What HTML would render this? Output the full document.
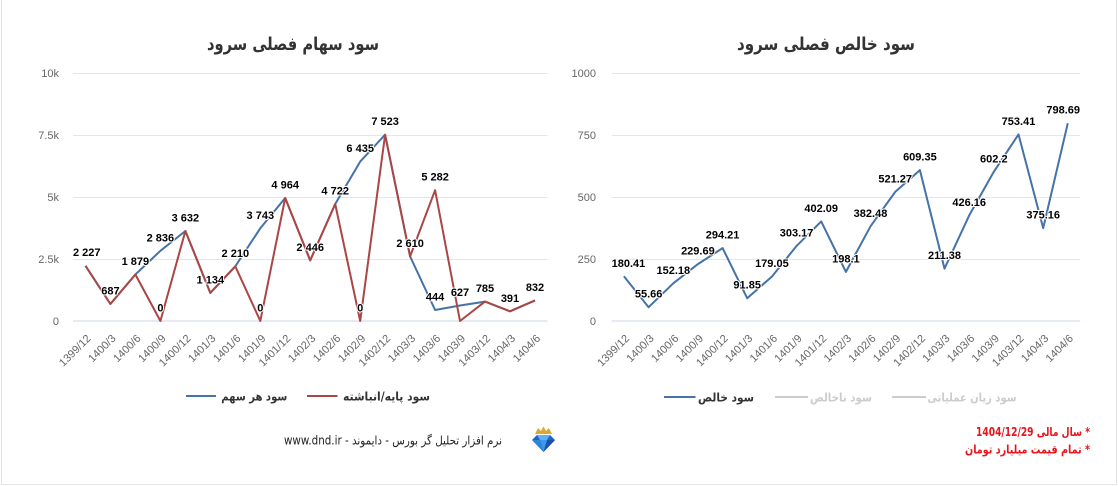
<!DOCTYPE html>
<html><head><meta charset="utf-8">
<style>
html,body{margin:0;padding:0;background:#fff;}
svg{display:block;}
.t{font-family:"Liberation Sans","DejaVu Sans",sans-serif;}
.ax{font-size:11px;fill:#666;}
.dl{font-size:11px;font-weight:bold;fill:#000;stroke:#fff;stroke-width:2px;paint-order:stroke;stroke-linejoin:round;}
.fa{font-family:"DejaVu Sans","Liberation Sans",sans-serif;}
</style></head>
<body>
<svg width="1118" height="486" viewBox="0 0 1118 486" xmlns="http://www.w3.org/2000/svg">
<rect x="0" y="0" width="1118" height="486" fill="#fff"/>
<!-- border -->
<path d="M1.5 0 V484.5 H1116.5 V0" fill="none" stroke="#e4e4e4" stroke-width="1"/>

<!-- ============ LEFT CHART ============ -->
<text class="fa" x="293" y="50" text-anchor="middle" font-size="18" font-weight="bold" fill="#333" textLength="172" lengthAdjust="spacingAndGlyphs">سود سهام فصلی سرود</text>
<g stroke="#e6e6e6" stroke-width="1">
<line x1="73" y1="73.5" x2="547.5" y2="73.5"/>
<line x1="73" y1="135.5" x2="547.5" y2="135.5"/>
<line x1="73" y1="197.5" x2="547.5" y2="197.5"/>
<line x1="73" y1="259.5" x2="547.5" y2="259.5"/>
</g>
<line x1="73" y1="321" x2="547.5" y2="321" stroke="#ccd6eb" stroke-width="1"/>
<g class="t ax" text-anchor="end">
<text x="59" y="77">10k</text>
<text x="59" y="139">7.5k</text>
<text x="59" y="201">5k</text>
<text x="59" y="263">2.5k</text>
<text x="59" y="325">0</text>
</g>
<g class="t ax" text-anchor="end">
<text transform="translate(91.5,339) rotate(-45)">1399/12</text>
<text transform="translate(116.4,339) rotate(-45)">1400/3</text>
<text transform="translate(141.4,339) rotate(-45)">1400/6</text>
<text transform="translate(166.4,339) rotate(-45)">1400/9</text>
<text transform="translate(191.4,339) rotate(-45)">1400/12</text>
<text transform="translate(216.3,339) rotate(-45)">1401/3</text>
<text transform="translate(241.3,339) rotate(-45)">1401/6</text>
<text transform="translate(266.3,339) rotate(-45)">1401/9</text>
<text transform="translate(291.2,339) rotate(-45)">1401/12</text>
<text transform="translate(316.2,339) rotate(-45)">1402/3</text>
<text transform="translate(341.2,339) rotate(-45)">1402/6</text>
<text transform="translate(366.2,339) rotate(-45)">1402/9</text>
<text transform="translate(391.1,339) rotate(-45)">1402/12</text>
<text transform="translate(416.1,339) rotate(-45)">1403/3</text>
<text transform="translate(441.1,339) rotate(-45)">1403/6</text>
<text transform="translate(466,339) rotate(-45)">1403/9</text>
<text transform="translate(491,339) rotate(-45)">1403/12</text>
<text transform="translate(516,339) rotate(-45)">1404/3</text>
<text transform="translate(541,339) rotate(-45)">1404/6</text>
</g>
<!-- blue series -->
<polyline fill="none" stroke="#4572A7" stroke-width="2" stroke-linejoin="round" points="85.5,265.8 110.4,304 135.4,274.5 160.4,250.8 185.4,231 210.3,292.9 235.3,266.3 260.3,228.3 285.2,198 310.2,260.4 335.2,204 360.2,161.6 385.1,134.7 410.1,256.4 435.1,310 460,305.5 485,301.6 510,311.3 535,300.4"/>
<!-- red series -->
<polyline fill="none" stroke="#AA4643" stroke-width="2" stroke-linejoin="round" points="85.5,265.8 110.4,304 135.4,274.5 160.4,321 185.4,231 210.3,292.9 235.3,266.3 260.3,321 285.2,198 310.2,260.4 335.2,204 360.2,321 385.1,134.7 410.1,256.4 435.1,190.2 460,321 485,301.6 510,311.3 535,300.4"/>
<g class="t dl" text-anchor="middle">
<text x="73" y="256" text-anchor="start">2 227</text>
<text x="110.4" y="294.5">687</text>
<text x="135.4" y="265">1 879</text>
<text x="160.4" y="241.3">2 836</text>
<text x="160.4" y="311.5">0</text>
<text x="185.4" y="221.5">3 632</text>
<text x="210.3" y="283.4">1 134</text>
<text x="235.3" y="256.8">2 210</text>
<text x="260.3" y="218.8">3 743</text>
<text x="260.3" y="311.5">0</text>
<text x="285.2" y="188.5">4 964</text>
<text x="310.2" y="250.9">2 446</text>
<text x="335.2" y="194.5">4 722</text>
<text x="360.2" y="152.1">6 435</text>
<text x="360.2" y="311.5">0</text>
<text x="385.1" y="125.2">7 523</text>
<text x="410.1" y="246.9">2 610</text>
<text x="435.1" y="180.7">5 282</text>
<text x="435.1" y="300.5">444</text>
<text x="460" y="296">627</text>
<text x="485" y="292.1">785</text>
<text x="510" y="301.8">391</text>
<text x="535" y="290.9">832</text>
</g>
<!-- left legend -->
<line x1="186" y1="396" x2="216" y2="396" stroke="#4572A7" stroke-width="2"/>
<text class="fa" x="254.3" y="400.5" text-anchor="middle" font-size="12" font-weight="bold" fill="#333" textLength="66" lengthAdjust="spacingAndGlyphs">سود هر سهم</text>
<line x1="307" y1="396" x2="337.5" y2="396" stroke="#AA4643" stroke-width="2"/>
<text class="fa" x="386.5" y="400.5" text-anchor="middle" font-size="12" font-weight="bold" fill="#333" textLength="87" lengthAdjust="spacingAndGlyphs">سود پایه/انباشته</text>
<!-- footer -->
<text class="fa" x="393" y="444.5" text-anchor="middle" font-size="12" fill="#222" style="direction:rtl;unicode-bidi:embed" textLength="218" lengthAdjust="spacingAndGlyphs">نرم افزار تحلیل گر بورس - دایموند - www.dnd.ir</text>
<!-- diamond icon -->
<g>
<polygon points="535,434 538,428 541,431 543.5,426.5 546,431 549,428 552,434" fill="#d9a935"/>
<polygon points="537,435 550,435 555,440 543.5,452 532,440" fill="#1f63c4"/>
<polygon points="537,435 550,435 547,440 540,440" fill="#5fb0f2"/>
<polygon points="532,440 540,440 543.5,452" fill="#2d83dc"/>
<polygon points="547,440 555,440 543.5,452" fill="#1a4fa8"/>
<polygon points="540,440 547,440 543.5,452" fill="#3d97ea"/>
</g>

<!-- ============ RIGHT CHART ============ -->
<text class="fa" x="826" y="50" text-anchor="middle" font-size="18" font-weight="bold" fill="#333" textLength="178" lengthAdjust="spacingAndGlyphs">سود خالص فصلی سرود</text>
<g stroke="#e6e6e6" stroke-width="1">
<line x1="611.6" y1="73.5" x2="1080" y2="73.5"/>
<line x1="611.6" y1="135.5" x2="1080" y2="135.5"/>
<line x1="611.6" y1="197.5" x2="1080" y2="197.5"/>
<line x1="611.6" y1="259.5" x2="1080" y2="259.5"/>
</g>
<line x1="611.6" y1="321" x2="1080" y2="321" stroke="#ccd6eb" stroke-width="1"/>
<g class="t ax" text-anchor="end">
<text x="596" y="77">1000</text>
<text x="596" y="139">750</text>
<text x="596" y="201">500</text>
<text x="596" y="263">250</text>
<text x="596" y="325">0</text>
</g>
<g class="t ax" text-anchor="end">
<text transform="translate(629.9,339) rotate(-45)">1399/12</text>
<text transform="translate(654.6,339) rotate(-45)">1400/3</text>
<text transform="translate(679.3,339) rotate(-45)">1400/6</text>
<text transform="translate(703.9,339) rotate(-45)">1400/9</text>
<text transform="translate(728.6,339) rotate(-45)">1400/12</text>
<text transform="translate(753.2,339) rotate(-45)">1401/3</text>
<text transform="translate(777.9,339) rotate(-45)">1401/6</text>
<text transform="translate(802.6,339) rotate(-45)">1401/9</text>
<text transform="translate(827.2,339) rotate(-45)">1401/12</text>
<text transform="translate(851.9,339) rotate(-45)">1402/3</text>
<text transform="translate(876.5,339) rotate(-45)">1402/6</text>
<text transform="translate(901.2,339) rotate(-45)">1402/9</text>
<text transform="translate(925.9,339) rotate(-45)">1402/12</text>
<text transform="translate(950.5,339) rotate(-45)">1403/3</text>
<text transform="translate(975.2,339) rotate(-45)">1403/6</text>
<text transform="translate(999.8,339) rotate(-45)">1403/9</text>
<text transform="translate(1024.5,339) rotate(-45)">1403/12</text>
<text transform="translate(1049.2,339) rotate(-45)">1404/3</text>
<text transform="translate(1073.8,339) rotate(-45)">1404/6</text>
</g>
<polyline fill="none" stroke="#4572A7" stroke-width="2" stroke-linejoin="round" points="623.9,276.3 648.6,307.2 673.3,283.3 697.9,264.1 722.6,248.1 747.2,298.2 771.9,276.6 796.6,245.9 821.2,221.4 845.9,271.9 870.5,226.3 895.2,191.9 919.9,170.1 944.5,268.6 969.2,215.4 993.8,171.8 1018.5,134.4 1043.2,228.1 1067.8,123.2"/>
<g class="t dl" text-anchor="middle">
<text x="611.6" y="266.8" text-anchor="start">180.41</text>
<text x="648.6" y="297.7">55.66</text>
<text x="673.3" y="273.8">152.18</text>
<text x="697.9" y="254.6">229.69</text>
<text x="722.6" y="238.6">294.21</text>
<text x="747.2" y="288.7">91.85</text>
<text x="771.9" y="267.1">179.05</text>
<text x="796.6" y="236.4">303.17</text>
<text x="821.2" y="211.9">402.09</text>
<text x="845.9" y="262.4">198.1</text>
<text x="870.5" y="216.8">382.48</text>
<text x="895.2" y="182.4">521.27</text>
<text x="919.9" y="160.6">609.35</text>
<text x="944.5" y="259.1">211.38</text>
<text x="969.2" y="205.9">426.16</text>
<text x="993.8" y="162.3">602.2</text>
<text x="1018.5" y="124.9">753.41</text>
<text x="1043.2" y="218.6">375.16</text>
<text x="1080" y="113.7" text-anchor="end">798.69</text>
</g>
<!-- right legend -->
<line x1="664" y1="397" x2="695.5" y2="397" stroke="#4572A7" stroke-width="2"/>
<text class="fa" x="726" y="401.5" text-anchor="middle" font-size="12" font-weight="bold" fill="#333" textLength="56" lengthAdjust="spacingAndGlyphs">سود خالص</text>
<line x1="775" y1="397" x2="808" y2="397" stroke="#cccccc" stroke-width="2"/>
<text class="fa" x="841" y="401.5" text-anchor="middle" font-size="12" font-weight="bold" fill="#cccccc" textLength="62" lengthAdjust="spacingAndGlyphs">سود ناخالص</text>
<line x1="892" y1="397" x2="926" y2="397" stroke="#cccccc" stroke-width="2"/>
<text class="fa" x="972" y="401.5" text-anchor="middle" font-size="12" font-weight="bold" fill="#cccccc" textLength="89" lengthAdjust="spacingAndGlyphs">سود زیان عملیاتی</text>
<!-- notes -->
<text class="fa" x="1033" y="436" text-anchor="middle" font-size="12" font-weight="bold" fill="#e8141b" style="direction:rtl;unicode-bidi:embed" textLength="114" lengthAdjust="spacingAndGlyphs">* سال مالی 1404/12/29</text>
<text class="fa" x="1027.5" y="453.5" text-anchor="middle" font-size="12" font-weight="bold" fill="#e8141b" style="direction:rtl;unicode-bidi:embed" textLength="125" lengthAdjust="spacingAndGlyphs">* تمام قیمت میلیارد تومان</text>
</svg>
</body></html>
